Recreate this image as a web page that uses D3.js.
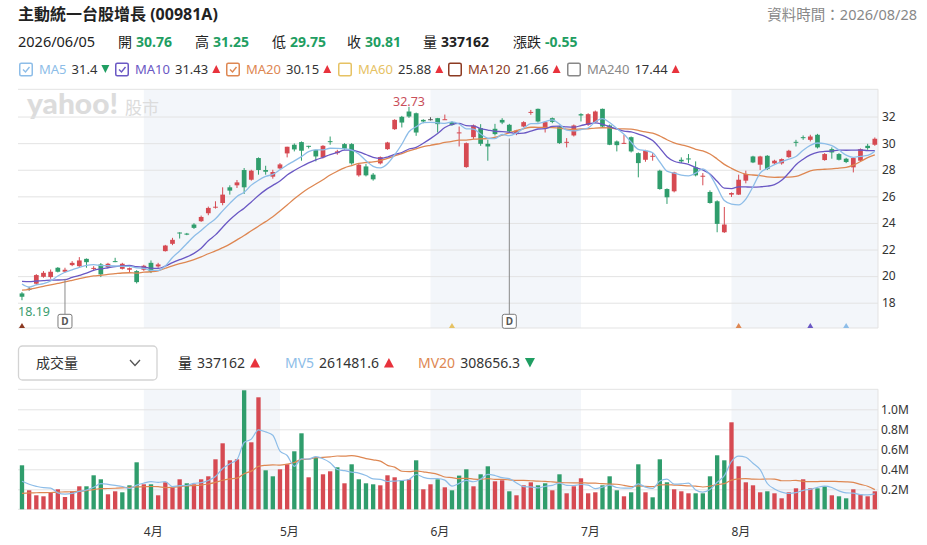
<!DOCTYPE html>
<html>
<head>
<meta charset="utf-8">
<script src="https://cdn.jsdelivr.net/npm/d3@7"></script>
<style>
  body { margin: 0; background: #fff; }
  svg { font-family: "Noto Sans", "Noto Sans CJK TC", sans-serif; }
</style>
</head>
<body>
<svg id="chart" width="927" height="545"></svg>
<script>
// ---- data ----
const title = "主動統一台股增長 (00981A)";
const dataTime = "資料時間：2026/08/28";
const focusDate = "2026/06/05";
const focusIdx = 61;

const opens = [18.7,19.05,19.43,19.95,19.93,20.63,20.33,20.83,20.75,21.3,
  20.55,20.88,20.68,21.13,20.55,20.48,20.38,20.48,21.0,20.73,
  21.88,22.43,23.28,23.2,23.88,24.13,24.73,25.15,25.5,26.68,
  26.83,27.98,27.25,28.88,27.98,27.48,28.1,29.23,29.88,30.08,
  29.8,29.5,28.93,30.15,29.25,29.93,29.93,27.58,28.25,27.63,
  28.48,29.55,31.05,31.98,32.38,32.25,31.75,31.8,31.88,31.78,
  31.58,30.76,28.2,30.45,31.13,29.95,31.08,31.75,31.38,30.7,
  31.25,32.3,32.58,31.13,31.88,31.25,30.05,30.58,32.18,31.38,
  31.58,32.58,31.33,30.13,29.98,30.45,29.25,28.75,29.0,27.93,
  26.55,26.38,28.75,28.85,28.18,27.5,26.33,25.63,23.3,26.13,
  26.13,27.18,29.0,28.38,29.05,28.48,28.48,28.95,30.1,30.45,
  30.25,30.63,28.73,29.55,29.18,28.83,28.18,28.68,29.8,29.88];
const highs = [18.8,19.2,20.15,20.38,20.5,20.68,20.63,21.13,21.43,21.33,
  20.75,20.98,21.0,21.38,21.0,20.65,20.45,20.85,21.18,21.0,
  22.35,22.88,23.3,23.25,23.98,24.55,25.23,25.63,26.68,26.83,
  27.23,28.13,28.0,28.93,28.3,28.0,28.5,29.73,29.98,30.13,
  29.8,29.5,29.85,30.5,29.5,30.0,30.0,28.45,28.43,27.75,
  29.0,30.1,31.8,32.05,32.73,32.3,31.8,31.95,31.9,32.15,
  31.65,31.25,30.05,31.4,31.43,30.25,31.45,31.88,31.45,31.0,
  31.65,32.5,32.6,31.63,31.93,31.3,30.38,31.4,32.25,32.25,
  32.45,32.6,31.4,30.2,30.63,30.5,29.3,29.5,29.25,28.0,
  26.6,27.85,28.93,29.18,28.63,27.75,26.45,25.7,25.2,26.3,
  27.63,27.93,29.05,29.05,29.1,28.75,28.85,29.5,30.25,30.58,
  30.63,30.7,29.25,29.68,29.25,28.9,28.95,29.6,29.95,30.43];
const lows = [18.19,18.9,19.35,19.88,19.8,20.28,20.25,20.75,20.68,20.63,
  20.45,19.93,20.6,21.05,20.5,20.25,19.45,20.4,20.23,20.63,
  21.85,22.33,22.83,23.08,23.55,24.08,24.58,25.08,25.33,26.13,
  26.63,26.18,27.18,27.63,27.63,27.33,28.03,28.93,29.38,28.68,
  29.6,28.63,28.85,29.88,29.13,29.5,28.38,27.48,27.5,27.18,
  28.4,29.5,31.0,31.18,31.9,30.55,31.5,31.7,30.8,31.75,
  31.3,29.75,28.15,30.3,29.8,28.68,30.58,31.43,30.8,30.6,
  31.2,32.13,31.55,30.8,31.5,29.95,29.68,30.5,31.63,31.3,
  31.5,31.2,29.85,29.38,29.95,29.3,27.43,28.6,28.68,26.5,
  25.43,26.3,28.5,28.5,27.5,26.83,25.45,23.3,23.25,25.95,
  26.1,26.98,28.5,27.98,27.98,28.4,28.38,28.9,29.75,30.25,
  30.13,29.6,28.68,28.83,28.7,28.5,27.8,28.6,29.5,29.8];
const closes = [18.45,19.05,20.08,20.25,20.33,20.33,20.48,21.0,21.18,21.05,
  20.62,20.13,20.93,21.08,20.93,20.6,19.55,20.78,20.33,20.88,
  22.3,22.73,23.22,23.12,23.63,24.45,25.13,25.22,26.13,26.43,
  27.05,26.68,27.93,27.98,27.85,27.83,28.4,29.73,29.53,29.43,
  29.75,29.0,29.8,30.1,29.38,29.58,28.48,28.38,27.58,27.28,
  28.95,30.05,31.75,31.55,32.0,30.8,31.63,31.8,31.43,31.8,
  31.36,30.81,30.0,31.33,29.95,29.75,30.68,31.55,30.88,30.95,
  31.58,32.35,31.63,31.58,31.6,30.0,30.1,31.33,32.08,32.18,
  32.38,31.25,29.88,29.85,30.02,29.38,28.5,29.43,29.05,26.55,
  25.93,27.8,28.63,28.8,27.58,27.55,25.5,23.93,23.88,26.25,
  27.25,27.68,28.55,29.0,28.05,28.68,28.8,29.43,30.05,30.4,
  30.5,29.68,29.18,29.3,28.75,28.58,28.88,29.55,29.63,30.33];
const volumes = [440000,190000,140000,130000,163000,200000,123000,180000,230000,230000,
  340000,300000,150000,180000,170000,240000,470000,250000,250000,140000,
  270000,220000,300000,260000,250000,300000,330000,500000,660000,490000,
  500000,1190000,670000,1120000,390000,330000,400000,450000,580000,760000,
  320000,520000,350000,380000,420000,260000,450000,300000,260000,250000,
  240000,340000,320000,290000,300000,490000,200000,250000,300000,220000,
  190000,337162,400000,230000,350000,430000,280000,290000,180000,140000,
  240000,270000,240000,260000,190000,350000,160000,230000,310000,160000,
  170000,240000,330000,190000,130000,170000,450000,170000,120000,500000,
  270000,200000,180000,160000,160000,160000,330000,540000,490000,870000,
  430000,270000,240000,170000,180000,160000,110000,170000,210000,300000,
  210000,210000,230000,140000,130000,110000,200000,150000,130000,180000];

// sessions before the visible window (needed for the moving averages)
const priorCloses = [17.8,17.9,18.0,18.1,18.2,18.3,18.5,18.6,18.8,18.8,
  19.2,19.6,20.0,19.9,20.25,20.2,19.3,19.7,19.4];
const priorVolumes = [100000,120000,110000,130000,120000,100000,140000,120000,110000,130000,
  120000,120000,130000,110000,140000,340000,240000,200000,180000];

const monthLabels = ["4月", "5月", "6月", "7月", "8月"];
const monthStartIdx = [17, 36, 57, 78, 99];
const dividendIdx = [6, 68];
const crossIdx = [0, 60, 100, 110, 115];
const crossSeries = ["MA120", "MA60", "MA20", "MA10", "MA5"];

const priceTicks = [18, 20, 22, 24, 26, 28, 30, 32];
const volumeTicks = [200000, 400000, 600000, 800000, 1000000];

const maNames = ["MA5", "MA10", "MA20", "MA60", "MA120", "MA240"];
const maValues = ["31.4", "31.43", "30.15", "25.88", "21.66", "17.44"];
const maTrend = [-1, 1, 1, 1, 1, 1];
const maChecked = [true, true, true, false, false, false];

const volNames = ["量", "MV5", "MV20"];
const volValues = ["337162", "261481.6", "308656.3"];
const volTrend = [1, 1, -1];

// ---- styles ----
const UP = "#d64a52", DOWN = "#2f9d6c", FLAT = "#555";
const TXT_UP = "#e8323c", TXT_DOWN = "#1f9e62";
const GRID = "#e3e3e3", BAND = "#f3f6fa";
const maColor = { MA5: "#8dbde8", MA10: "#6a58c4", MA20: "#de8752", MA60: "#e6c263", MA120: "#8c3a22", MA240: "#888888" };
const volColor = { "量": "#222", MV5: "#8dbde8", MV20: "#de8752" };

const plotL = 18, plotR = 878;
const priceTop = 89.3, priceBot = 328;
const volTop = 389.3, volBot = 509.3;

const svg = d3.select("#chart");
const n = closes.length;

const x = d3.scaleBand().domain(d3.range(n)).range([plotL + 0.4, plotR + 0.4])
  .paddingInner(0.34).paddingOuter(0.17);
const bw = x.bandwidth();
const cx = i => x(i) + bw / 2;

const y = d3.scaleLinear().domain([16.1, 34.05]).range([priceBot, priceTop]);
const yv = d3.scaleLinear().domain([0, 1200000]).range([volBot, volTop]);

function movingAvg(prior, arr, len) {
  const full = prior.concat(arr);
  const off = prior.length;
  return arr.map((_, i) => d3.mean(full.slice(off + i - len + 1, off + i + 1)));
}

function tri(g, px, baseY, w, h, up, color) {
  const p = up
    ? `M${px - w / 2},${baseY} L${px + w / 2},${baseY} L${px},${baseY - h} Z`
    : `M${px - w / 2},${baseY - h} L${px + w / 2},${baseY - h} L${px},${baseY} Z`;
  g.append("path").attr("d", p).attr("fill", color);
}

// ---- header ----
svg.append("text").attr("x", 18).attr("y", 20)
  .attr("font-size", 16).attr("font-weight", "bold").attr("fill", "#222")
  .text(title);
svg.append("text").attr("x", 917).attr("y", 20).attr("text-anchor", "end")
  .attr("font-size", 14.5).attr("fill", "#888").text(dataTime);

const fmt2 = v => v.toFixed(2);
const chg = closes[focusIdx] - closes[focusIdx - 1];
const row2 = [
  { lab: "開", val: fmt2(opens[focusIdx]), x: 118, color: TXT_DOWN },
  { lab: "高", val: fmt2(highs[focusIdx]), x: 195, color: TXT_DOWN },
  { lab: "低", val: fmt2(lows[focusIdx]), x: 272, color: TXT_DOWN },
  { lab: "收", val: fmt2(closes[focusIdx]), x: 347, color: TXT_DOWN },
  { lab: "量", val: String(volumes[focusIdx]), x: 423, color: "#222" },
  { lab: "漲跌", val: fmt2(chg), x: 513, color: chg < 0 ? TXT_DOWN : TXT_UP }
];
svg.append("text").attr("x", 18).attr("y", 47).attr("font-size", 14.5)
  .attr("fill", "#222").text(focusDate);
row2.forEach(d => {
  const t = svg.append("text").attr("x", d.x).attr("y", 47).attr("font-size", 14)
    .attr("fill", "#222").text(d.lab);
  const w = t.node().getComputedTextLength();
  svg.append("text").attr("x", d.x + w + 4).attr("y", 47).attr("font-size", 14)
    .attr("font-weight", "bold").attr("fill", d.color).text(d.val);
});

// MA legend
const legendX = [19, 115, 226, 338, 448, 567];
const lg = svg.append("g");
maNames.forEach((name, k) => {
  const bx = legendX[k], by = 62.5, c = maColor[name];
  lg.append("rect").attr("x", bx + 0.75).attr("y", by + 0.75).attr("width", 12.5).attr("height", 12.5)
    .attr("rx", 1.5).attr("fill", "#fff").attr("stroke", c).attr("stroke-width", 1.5);
  if (maChecked[k]) {
    lg.append("path").attr("d", `M${bx + 4},${by + 7} L${bx + 6.5},${by + 9.5} L${bx + 10.5},${by + 4.5}`)
      .attr("fill", "none").attr("stroke", c).attr("stroke-width", 1.4);
  }
  const t1 = lg.append("text").attr("x", bx + 20).attr("y", 73.5).attr("font-size", 13)
    .attr("fill", c).text(name);
  const x2 = bx + 20 + t1.node().getComputedTextLength() + 5;
  const t2 = lg.append("text").attr("x", x2).attr("y", 73.5).attr("font-size", 13)
    .attr("fill", "#333").text(maValues[k]);
  const x3 = x2 + t2.node().getComputedTextLength() + 8;
  tri(lg, x3, 73, 8, 8, maTrend[k] > 0, maTrend[k] > 0 ? TXT_UP : TXT_DOWN);
});

// ---- price panel ----
const pg = svg.append("g");
const vg = svg.append("g");

// month bands
monthStartIdx.forEach((s, k) => {
  if (k % 2 !== 0) return;
  const x0 = cx(s);
  const x1 = k + 1 < monthStartIdx.length ? cx(monthStartIdx[k + 1]) : plotR;
  pg.append("rect").attr("x", x0).attr("y", priceTop).attr("width", x1 - x0)
    .attr("height", priceBot - priceTop).attr("fill", BAND);
  vg.append("rect").attr("x", x0).attr("y", volTop).attr("width", x1 - x0)
    .attr("height", volBot - volTop).attr("fill", BAND);
});

// watermark
pg.append("text").attr("x", 27).attr("y", 114).attr("font-family", "Lato, sans-serif")
  .attr("font-size", 28).attr("font-weight", 900)
  .attr("textLength", 91).attr("lengthAdjust", "spacingAndGlyphs")
  .attr("fill", "#dcdcdc").text("yahoo!");
pg.append("text").attr("x", 125).attr("y", 114).attr("font-family", "Noto Sans CJK TC")
  .attr("font-size", 17).attr("fill", "#dcdcdc").text("股市");

// grid + y axis
const yAxis = d3.axisRight(y).tickValues(priceTicks).tickSize(-(plotR - plotL)).tickPadding(4);
const ya = pg.append("g").attr("transform", `translate(${plotR},0)`).call(yAxis);
ya.select(".domain").remove();
ya.selectAll(".tick line").attr("stroke", GRID);
ya.selectAll(".tick text").attr("font-size", 12).attr("fill", "#333")
  .attr("font-family", "'Noto Sans', sans-serif");
[priceTop, priceBot].forEach(yy => pg.append("line").attr("x1", plotL).attr("x2", plotR)
  .attr("y1", yy).attr("y2", yy).attr("stroke", GRID));
pg.append("line").attr("x1", plotR).attr("x2", plotR).attr("y1", priceTop).attr("y2", priceBot)
  .attr("stroke", GRID);

// moving averages
const maLines = { MA5: movingAvg(priorCloses, closes, 5), MA10: movingAvg(priorCloses, closes, 10), MA20: movingAvg(priorCloses, closes, 20) };
const line = d3.line().x((d, i) => cx(i)).y(d => y(d)).curve(d3.curveMonotoneX);

// candles
const candleColor = i => closes[i] > opens[i] ? UP : closes[i] < opens[i] ? DOWN : FLAT;
const cg = pg.append("g");
cg.selectAll("line.wick").data(d3.range(n)).join("line")
  .attr("x1", i => cx(i)).attr("x2", i => cx(i))
  .attr("y1", i => y(highs[i])).attr("y2", i => y(lows[i]))
  .attr("stroke", candleColor).attr("stroke-width", 1);
cg.selectAll("rect.body").data(d3.range(n)).join("rect")
  .attr("x", i => x(i)).attr("width", bw)
  .attr("y", i => y(Math.max(opens[i], closes[i])))
  .attr("height", i => Math.max(1, Math.abs(y(opens[i]) - y(closes[i]))))
  .attr("fill", candleColor);

["MA20", "MA10", "MA5"].forEach(name => {
  pg.append("path").datum(maLines[name]).attr("d", line)
    .attr("fill", "none").attr("stroke", maColor[name]).attr("stroke-width", 1.3);
});

// dividend markers
dividendIdx.forEach(i => {
  const px = cx(i);
  pg.append("line").attr("x1", px).attr("x2", px).attr("y1", y(lows[i]) + 6).attr("y2", 314.3)
    .attr("stroke", "#8a8a8a").attr("stroke-width", 1);
  pg.append("rect").attr("x", px - 7).attr("y", 314.3).attr("width", 14).attr("height", 14)
    .attr("rx", 2).attr("fill", "#fff").attr("stroke", "#7a7a7a").attr("stroke-width", 1);
  pg.append("text").attr("x", px).attr("y", 325).attr("text-anchor", "middle")
    .attr("font-size", 10).attr("font-weight", "bold").attr("fill", "#555").text("D");
});

// crossing markers
crossIdx.forEach((i, k) => tri(pg, cx(i), 328, 6, 5, true, maColor[crossSeries[k]]));

// max / min labels
const hiIdx = d3.maxIndex(highs), loIdx = d3.minIndex(lows);
pg.append("text").attr("x", cx(hiIdx)).attr("y", 105.5).attr("text-anchor", "middle")
  .attr("font-size", 12.5).attr("fill", "#c9505a").text(highs[hiIdx].toFixed(2));
pg.append("text").attr("x", 18).attr("y", 315.5)
  .attr("font-size", 12.5).attr("fill", "#3a9c6e").text(lows[loIdx].toFixed(2));

// ---- volume panel ----
svg.append("rect").attr("x", 18.5).attr("y", 346).attr("width", 138.5).attr("height", 34)
  .attr("rx", 4).attr("fill", "#fff").attr("stroke", "#d3d3d3").attr("stroke-width", 1.3);
svg.append("text").attr("x", 36).attr("y", 368).attr("font-size", 14).attr("fill", "#333")
  .attr("font-family", "Noto Sans CJK TC").text("成交量");
svg.append("path").attr("d", "M130,360 L135,365.5 L140,360").attr("fill", "none")
  .attr("stroke", "#555").attr("stroke-width", 1.3);

const volLegX = [178, 285, 418];
volNames.forEach((name, k) => {
  const t1 = svg.append("text").attr("x", volLegX[k]).attr("y", 368).attr("font-size", 14)
    .attr("fill", volColor[name]).text(name);
  const x2 = volLegX[k] + t1.node().getComputedTextLength() + 5;
  const t2 = svg.append("text").attr("x", x2).attr("y", 368).attr("font-size", 14)
    .attr("fill", "#333").text(volValues[k]);
  const x3 = x2 + t2.node().getComputedTextLength() + 10;
  tri(svg, x3, 367.5, 10, 9.5, volTrend[k] > 0, volTrend[k] > 0 ? TXT_UP : TXT_DOWN);
});

const vAxis = d3.axisRight(yv).tickValues(volumeTicks).tickSize(-(plotR - plotL)).tickPadding(3)
  .tickFormat(d => (d / 1e6).toFixed(1) + "M");
const va = vg.append("g").attr("transform", `translate(${plotR},0)`).call(vAxis);
va.select(".domain").remove();
va.selectAll(".tick line").attr("stroke", GRID);
va.selectAll(".tick text").attr("font-size", 12).attr("fill", "#333")
  .attr("font-family", "'Noto Sans', sans-serif");
[volTop, volBot].forEach(yy => vg.append("line").attr("x1", plotL).attr("x2", plotR)
  .attr("y1", yy).attr("y2", yy).attr("stroke", GRID));
vg.append("line").attr("x1", plotR).attr("x2", plotR).attr("y1", volTop).attr("y2", volBot)
  .attr("stroke", GRID);

const prevClose = i => i === 0 ? priorCloses[priorCloses.length - 1] : closes[i - 1];
vg.selectAll("rect.vol").data(d3.range(n)).join("rect")
  .attr("x", i => x(i) + 0.2).attr("width", bw - 0.4)
  .attr("y", i => yv(volumes[i])).attr("height", i => volBot - yv(volumes[i]))
  .attr("fill", i => closes[i] >= prevClose(i) ? UP : DOWN);

const mv = { MV5: movingAvg(priorVolumes, volumes, 5), MV20: movingAvg(priorVolumes, volumes, 20) };
const vline = d3.line().x((d, i) => cx(i)).y(d => yv(d)).curve(d3.curveMonotoneX);
["MV20", "MV5"].forEach(name => {
  vg.append("path").datum(mv[name]).attr("d", vline)
    .attr("fill", "none").attr("stroke", volColor[name]).attr("stroke-width", 1.2);
});

// month labels
monthStartIdx.forEach((s, k) => {
  svg.append("text").attr("x", cx(s)).attr("y", 536).attr("font-size", 12)
    .attr("fill", "#333").text(monthLabels[k]);
});
</script>
</body>
</html>
